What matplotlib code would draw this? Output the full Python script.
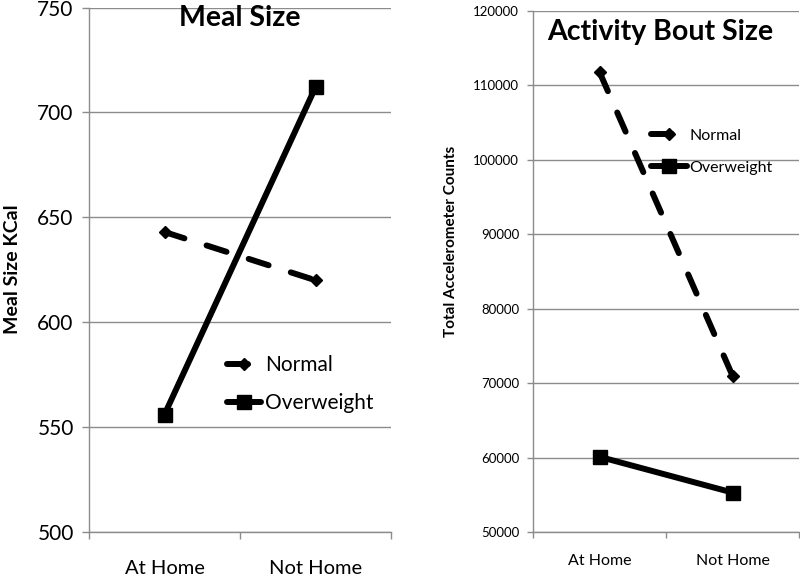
import numpy as np
import matplotlib
matplotlib.use("Agg")
import matplotlib.pyplot as plt

plt.rcParams['font.family'] = ['Lato', 'DejaVu Sans']

categories = ["At Home", "Not Home"]
series = ["Normal", "Overweight"]

meal_normal = [643, 620]
meal_overweight = [556, 712]
meal_ticks = [500, 550, 600, 650, 700, 750]

bout_normal = [111800, 71000]
bout_overweight = [60100, 55300]
bout_ticks = [50000, 60000, 70000, 80000, 90000, 100000, 110000, 120000]

GRID = "#8c8c8c"
DASH = (0, (3.5, 3.9))

fig = plt.figure(figsize=(8, 5.76), dpi=100)
ax1 = fig.add_axes([89/800, 1-532/576, (391-89)/800, (532-7.5)/576])
ax2 = fig.add_axes([533/800, 1-532/576, (799-533)/800, (532-11)/576])


def style_axes(ax, ticks, ysize, xsize, xpad, ypad, tlen):
    x = np.arange(len(categories))
    ax.set_xlim(-0.5, len(categories) - 0.5)
    ax.set_ylim(ticks[0], ticks[-1])
    ax.set_yticks(ticks)
    ax.set_xticks(x)
    ax.set_xticklabels(categories, fontsize=xsize)
    ax.set_xticks([-0.5, 0.5, 1.5], minor=True)
    ax.tick_params(axis='x', which='major', length=0, pad=xpad)
    ax.tick_params(axis='x', which='minor', length=tlen, color=GRID, width=1)
    ax.tick_params(axis='y', length=tlen, color=GRID, width=1, labelsize=ysize, pad=ypad)
    ax.grid(axis='y', color=GRID, linewidth=1)
    ax.set_axisbelow(True)
    for s in ['top', 'right']:
        ax.spines[s].set_visible(False)
    for s in ['left', 'bottom']:
        ax.spines[s].set_color(GRID)
        ax.spines[s].set_linewidth(1)
    return x


def draw_lines(ax, x, normal, overweight):
    ax.plot(x, normal, color='black', lw=4.3, linestyle=DASH, dash_capstyle='round',
            marker='D', markersize=6, label=series[0])
    ax.plot(x, overweight, color='black', lw=4.3, solid_capstyle='round',
            marker='s', markersize=10, label=series[1])


x = style_axes(ax1, meal_ticks, 15, 14.5, 20, 6, 5)
draw_lines(ax1, x, meal_normal, meal_overweight)
ax1.text(0.5, 1.005, "Meal Size", transform=ax1.transAxes, ha='center', va='top',
         fontsize=20.5, fontweight='bold')
ax1.set_ylabel("Meal Size KCal", fontsize=14, fontweight='bold')
ax1.yaxis.set_label_coords(-0.224, 0.502)
ax1.legend(loc='upper left', bbox_to_anchor=(0.43, 0.353), frameon=False, fontsize=15,
           handlelength=1.6, handletextpad=0.2, labelspacing=0.85, borderaxespad=0)

x = style_axes(ax2, bout_ticks, 9.5, 11.5, 16, 6, 4)
draw_lines(ax2, x, bout_normal, bout_overweight)
ax2.text(0.477, 0.985, "Activity Bout Size", transform=ax2.transAxes, ha='center', va='top',
         fontsize=20.5, fontweight='bold')
ax2.set_ylabel("Total Accelerometer Counts", fontsize=11, fontweight='bold')
ax2.yaxis.set_label_coords(-0.282, 0.557)
ax2.legend(loc='upper left', bbox_to_anchor=(0.42, 0.787), frameon=False, fontsize=11.5,
           handlelength=2.25, handletextpad=0.15, labelspacing=1.13, borderaxespad=0)

fig.savefig("out.png", dpi=100)
